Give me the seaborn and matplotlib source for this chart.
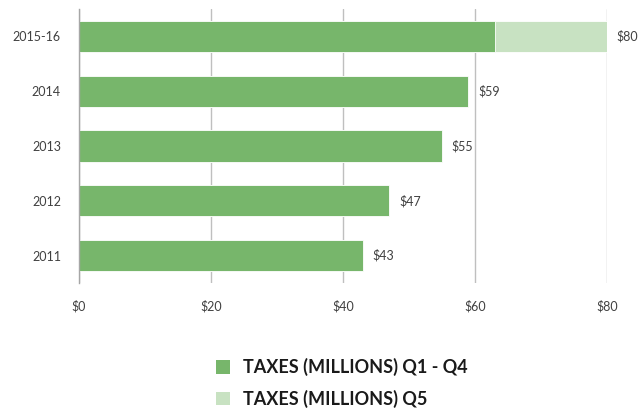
import matplotlib
matplotlib.use("Agg")
import matplotlib.pyplot as plt
from matplotlib.patches import Patch
import seaborn as sns
import pandas as pd

# Tax revenue by period, in millions of dollars
periods = ["2015-16", "2014", "2013", "2012", "2011"]
taxes_q1_q4 = [63, 59, 55, 47, 43]
taxes_q5 = [17, 0, 0, 0, 0]
totals = [a + b for a, b in zip(taxes_q1_q4, taxes_q5)]
x_ticks = [0, 20, 40, 60, 80]
x_tick_labels = ["$0", "$20", "$40", "$60", "$80"]
series_names = ["TAXES (MILLIONS) Q1 - Q4", "TAXES (MILLIONS) Q5"]

dark_green = "#77B66B"
light_green = "#C8E2C2"
text_color = "#404040"

sns.set_theme(style="white")
plt.rcParams["font.family"] = ["Lato", "DejaVu Sans"]

df = pd.DataFrame({"period": periods, "q1_q4": taxes_q1_q4, "total": totals})

fig = plt.figure(figsize=(6.38, 4.08), dpi=100)
ax = fig.add_axes([79 / 638, 1 - 283 / 408, 528 / 638, 274 / 408])

# Stacked bars: full total in light green, Q1-Q4 portion over it in dark green
sns.barplot(data=df, y="period", x="total", order=periods, color=light_green,
            orient="h", width=0.57, edgecolor="white", linewidth=0.6,
            saturation=1, ax=ax, zorder=2)
sns.barplot(data=df, y="period", x="q1_q4", order=periods, color=dark_green,
            orient="h", width=0.57, edgecolor="white", linewidth=0.6,
            saturation=1, ax=ax, zorder=3)

# Value labels at the end of each stacked bar
for i, total in enumerate(totals):
    ax.annotate(f"${total}", xy=(total, i), xytext=(7, 0),
                textcoords="offset points", va="center", ha="left",
                fontsize=9, color=text_color, annotation_clip=False)

ax.set_xlim(0, 80)
ax.set_ylim(len(periods) - 0.5, -0.5)
ax.set_xticks(x_ticks)
ax.set_xticklabels(x_tick_labels)
ax.set_xlabel("")
ax.set_ylabel("")
ax.grid(axis="x", color="#BFBFBF", linewidth=1, zorder=0)
ax.set_axisbelow(True)
for side in ["top", "right", "bottom"]:
    ax.spines[side].set_visible(False)
ax.spines["left"].set_color("#A6A6A6")
ax.spines["left"].set_linewidth(1)
ax.spines["left"].set_zorder(4)
ax.tick_params(axis="both", length=0, labelsize=9, labelcolor=text_color)
ax.tick_params(axis="x", pad=12)
ax.tick_params(axis="y", pad=13)

handles = [Patch(facecolor=dark_green, edgecolor="none"),
           Patch(facecolor=light_green, edgecolor="none")]
fig.legend(handles, series_names, loc="upper left",
           bbox_to_anchor=(216 / 638, 1 - 358 / 408), frameon=False,
           handlelength=0.8, handleheight=0.8, handletextpad=0.7,
           labelspacing=0.75, borderaxespad=0, borderpad=0,
           prop={"family": ["Lato", "DejaVu Sans"], "weight": "bold", "size": 13},
           labelcolor="#1a1a1a")

fig.savefig("out.png", dpi=100)
